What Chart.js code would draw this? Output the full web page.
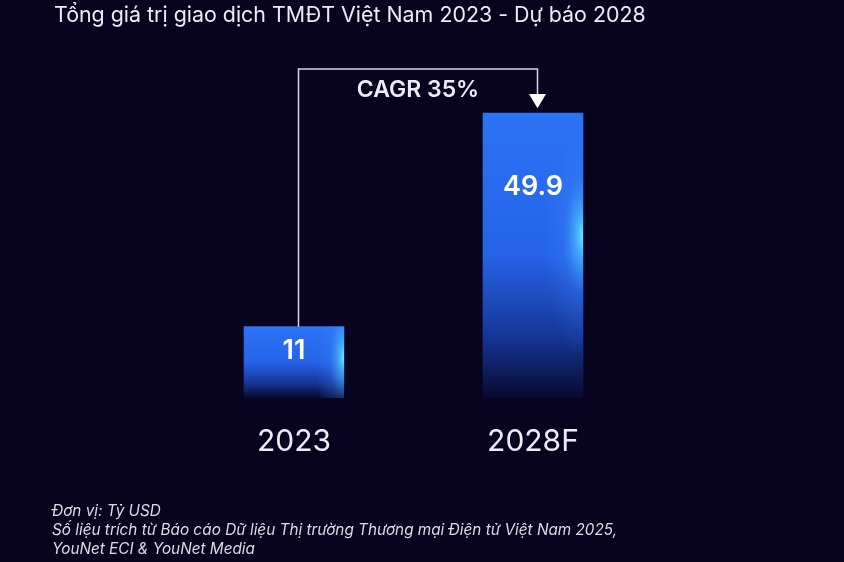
<!DOCTYPE html>
<html>
<head>
<meta charset="utf-8">
<script src="https://cdn.jsdelivr.net/npm/chart.js@4.4.1/dist/chart.umd.min.js"></script>
<style>
  html, body { margin: 0; padding: 0; background: #08031f; }
  canvas { display: block; }
</style>
</head>
<body>
<canvas id="gmvChart" width="844" height="562"></canvas>
<script>
// Data for the chart
const years = ['2023', '2028F'];
const gmvValues = [11, 49.9];
const valueLabels = ['11', '49.9'];
const cagrLabel = 'CAGR 35%';
const titleText = 'Tổng giá trị giao dịch TMĐT Việt Nam 2023 - Dự báo 2028';
const noteLines = [
    'Đơn vị: Tỷ USD',
    'Số liệu trích từ Báo cáo Dữ liệu Thị trường Thương mại Điện tử Việt Nam 2025,',
    'YouNet ECI & YouNet Media'
];

const FONT = 'Inter, "Noto Sans", sans-serif';
const TEXT = '#ececf4';
const BAR_BASE = -2;

// blue bar fading into the background at the bottom
function barGradient(context) {
    const chart = context.chart;
    if (!chart.chartArea || !context.parsed) return '#2a6cf2';
    const y = chart.scales.y;
    const top = y.getPixelForValue(context.parsed.y);
    const bottom = y.getPixelForValue(BAR_BASE);
    const g = chart.ctx.createLinearGradient(0, top, 0, bottom);
    g.addColorStop(0, '#2d72f5');
    g.addColorStop(0.5, '#2563e8');
    g.addColorStop(0.78, '#163799');
    g.addColorStop(1, '#090930');
    return g;
}

// cyan glow on the right edge of each bar, value labels
const barDecor = {
    id: 'barDecor',
    afterDatasetsDraw(chart) {
        const ctx = chart.ctx;
        const meta = chart.getDatasetMeta(0);
        const labelOffsets = [24, 74];
        meta.data.forEach((bar, i) => {
            const left = bar.x - bar.width / 2;
            const right = bar.x + bar.width / 2;
            const h = bar.base - bar.y;
            ctx.save();
            ctx.beginPath();
            ctx.rect(left, bar.y, bar.width, h);
            ctx.clip();
            const gy = bar.y + h * 0.43;
            ctx.translate(right, gy);
            ctx.scale(1, 3);
            const r = Math.min(40, h * 0.4);
            const rg = ctx.createRadialGradient(0, 0, 0, 0, 0, r);
            rg.addColorStop(0, 'rgba(110,245,255,0.95)');
            rg.addColorStop(0.15, 'rgba(80,210,255,0.7)');
            rg.addColorStop(0.5, 'rgba(60,140,255,0.25)');
            rg.addColorStop(1, 'rgba(60,120,255,0)');
            ctx.fillStyle = rg;
            ctx.fillRect(-r * 2, -r, r * 2, r * 2);
            ctx.restore();

            ctx.save();
            ctx.fillStyle = '#ffffff';
            ctx.font = '600 27px ' + FONT;
            ctx.textAlign = 'center';
            ctx.textBaseline = 'middle';
            ctx.fillText(valueLabels[i], bar.x, bar.y + labelOffsets[i]);
            ctx.restore();
        });
    }
};

// CAGR bracket, title and notes
const annotations = {
    id: 'annotations',
    afterDraw(chart) {
        const ctx = chart.ctx;
        const meta = chart.getDatasetMeta(0);
        const a = meta.data[0];
        const b = meta.data[1];
        const x1 = a.x + 4.5;
        const x2 = b.x + 4.5;
        const topY = 69;
        const arrowTop = 94;

        ctx.save();
        ctx.strokeStyle = '#d6d6e4';
        ctx.lineWidth = 1.5;
        ctx.beginPath();
        ctx.moveTo(x1, a.y);
        ctx.lineTo(x1, topY);
        ctx.lineTo(x2, topY);
        ctx.lineTo(x2, arrowTop);
        ctx.stroke();
        ctx.fillStyle = '#ffffff';
        ctx.beginPath();
        ctx.moveTo(x2 - 8.5, arrowTop);
        ctx.lineTo(x2 + 8.5, arrowTop);
        ctx.lineTo(x2, b.y - 5);
        ctx.closePath();
        ctx.fill();

        ctx.fillStyle = TEXT;
        ctx.font = '600 23px ' + FONT;
        ctx.textAlign = 'center';
        ctx.textBaseline = 'middle';
        ctx.fillText(cagrLabel, (x1 + x2) / 2, 90);

        ctx.textAlign = 'left';
        ctx.font = '400 21.4px ' + FONT;
        ctx.fillText(titleText, 54, 16);

        ctx.fillStyle = '#dcdce6';
        ctx.font = 'italic 400 15.3px ' + FONT;
        noteLines.forEach((line, i) => {
            ctx.fillText(line, 52, 511 + i * 19);
        });
        ctx.restore();
    }
};

const config = {
    type: 'bar',
    data: {
        labels: years,
        datasets: [{
            label: 'GMV',
            data: gmvValues,
            base: BAR_BASE,
            backgroundColor: barGradient,
            borderWidth: 0,
            barThickness: 100
        }]
    },
    options: {
        responsive: false,
        animation: false,
        layout: {
            padding: { left: 174.5, right: 191.5, top: 57.7, bottom: 76 }
        },
        plugins: {
            legend: { display: false },
            tooltip: { enabled: false }
        },
        scales: {
            x: {
                grid: { display: false, drawTicks: false },
                border: { display: false },
                ticks: {
                    color: TEXT,
                    padding: 26,
                    font: { family: FONT, size: 30, weight: '400' }
                }
            },
            y: {
                display: false,
                min: -2,
                max: 60
            }
        }
    },
    plugins: [barDecor, annotations]
};

// Render the chart
const ctx = document.getElementById('gmvChart').getContext('2d');
const gmvChart = new Chart(ctx, config);
</script>
</body>
</html>
